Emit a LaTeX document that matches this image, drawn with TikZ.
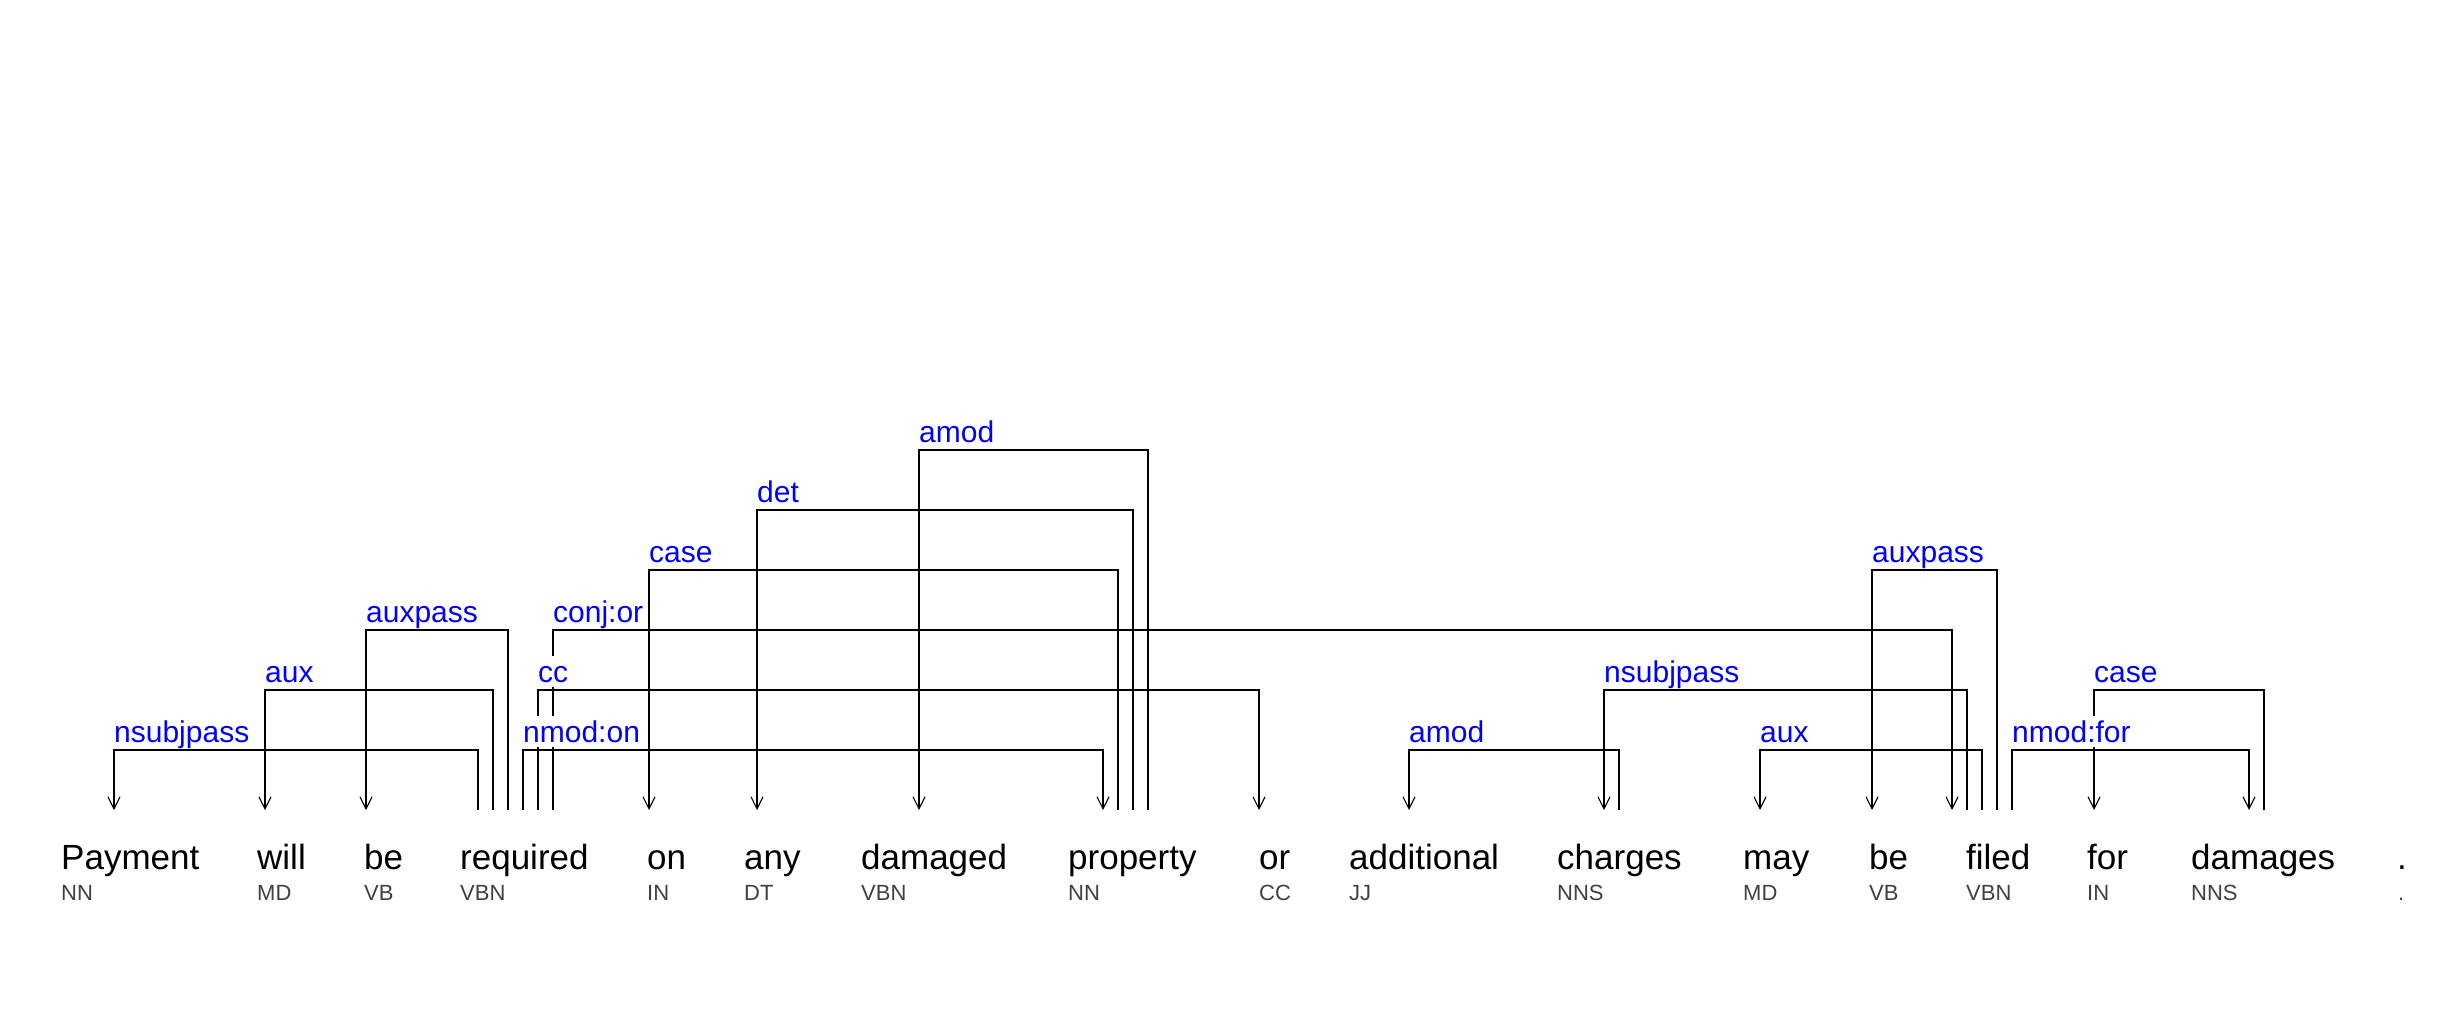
\documentclass[tikz,border=0pt]{standalone}
\usepackage{fontspec}
\setmainfont{Liberation Sans}
\usetikzlibrary{arrows.meta}
\definecolor{relblue}{RGB}{0,0,255}
\definecolor{posgray}{RGB}{64,64,64}
\begin{document}
\begin{tikzpicture}[x=1bp,y=-1bp,
  word/.style={anchor=base west,inner sep=0pt,font=\fontsize{35bp}{40bp}\selectfont},
  postag/.style={anchor=base west,inner sep=0pt,text=posgray,font=\fontsize{22bp}{26bp}\selectfont},
  rel/.style={anchor=base west,inner sep=0pt,text height=26bp,text depth=5bp,fill=white,
    yshift=8bp,text=relblue,font=\fontsize{30bp}{34bp}\selectfont},
  arc/.style={line width=1.1bp},
  dep/.style={arc,-{Straight Barb[length=12bp,width=12bp]}}]
  \useasboundingbox (0,0) rectangle (2462,1020);
  % arc levels
  \coordinate (L1) at (0,750);
  \coordinate (L2) at (0,690);
  \coordinate (L3) at (0,630);
  \coordinate (L4) at (0,570);
  \coordinate (L5) at (0,510);
  \coordinate (L6) at (0,450);
  % tokens
  \node[word] (payment) at (61,869) {Payment};
  \node[word] (will) at (257,869) {will};
  \node[word] (be) at (364,869) {be};
  \node[word] (required) at (460,869) {required};
  \node[word] (on) at (647,869) {on};
  \node[word] (any) at (744,869) {any};
  \node[word] (damaged) at (861,869) {damaged};
  \node[word] (property) at (1068,869) {property};
  \node[word] (or) at (1259,869) {or};
  \node[word] (additional) at (1349,869) {additional};
  \node[word] (charges) at (1557,869) {charges};
  \node[word] (may) at (1743,869) {may};
  \node[word] (be2) at (1869,869) {be};
  \node[word] (filed) at (1966,869) {filed};
  \node[word] (for) at (2087,869) {for};
  \node[word] (damages) at (2191,869) {damages};
  \node[word] (period) at (2397,869) {.};
  \node[postag] (payment-pos) at (61,900) {NN};
  \node[postag] (will-pos) at (257,900) {MD};
  \node[postag] (be-pos) at (364,900) {VB};
  \node[postag] (required-pos) at (460,900) {VBN};
  \node[postag] (on-pos) at (647,900) {IN};
  \node[postag] (any-pos) at (744,900) {DT};
  \node[postag] (damaged-pos) at (861,900) {VBN};
  \node[postag] (property-pos) at (1068,900) {NN};
  \node[postag] (or-pos) at (1259,900) {CC};
  \node[postag] (additional-pos) at (1349,900) {JJ};
  \node[postag] (charges-pos) at (1557,900) {NNS};
  \node[postag] (may-pos) at (1743,900) {MD};
  \node[postag] (be2-pos) at (1869,900) {VB};
  \node[postag] (filed-pos) at (1966,900) {VBN};
  \node[postag] (for-pos) at (2087,900) {IN};
  \node[postag] (damages-pos) at (2191,900) {NNS};
  \node[postag] (period-pos) at (2398,900) {.};
  % arc feet
  \coordinate (payment-f) at (114,810);
  \coordinate (will-f) at (265,810);
  \coordinate (be-f) at (366,810);
  \coordinate (required-f1) at (478,810);
  \coordinate (required-f2) at (493,810);
  \coordinate (required-f3) at (508,810);
  \coordinate (required-f4) at (523,810);
  \coordinate (required-f5) at (538,810);
  \coordinate (required-f6) at (553,810);
  \coordinate (on-f) at (649,810);
  \coordinate (any-f) at (757,810);
  \coordinate (damaged-f) at (919,810);
  \coordinate (property-f1) at (1103,810);
  \coordinate (property-f2) at (1118,810);
  \coordinate (property-f3) at (1133,810);
  \coordinate (property-f4) at (1148,810);
  \coordinate (or-f) at (1259,810);
  \coordinate (additional-f) at (1409,810);
  \coordinate (charges-f1) at (1604,810);
  \coordinate (charges-f2) at (1619,810);
  \coordinate (may-f) at (1760,810);
  \coordinate (be2-f) at (1872,810);
  \coordinate (filed-f1) at (1952,810);
  \coordinate (filed-f2) at (1967,810);
  \coordinate (filed-f3) at (1982,810);
  \coordinate (filed-f4) at (1997,810);
  \coordinate (filed-f5) at (2012,810);
  \coordinate (for-f) at (2094,810);
  \coordinate (damages-f1) at (2249,810);
  \coordinate (damages-f2) at (2264,810);
  % dependencies
  \draw[dep] (required-f1) -- (required-f1 |- L1) -| (payment-f);
  \draw[dep] (required-f2) -- (required-f2 |- L2) -| (will-f);
  \draw[dep] (required-f3) -- (required-f3 |- L3) -| (be-f);
  \draw[dep] (required-f4) -- (required-f4 |- L1) -| (property-f1);
  \draw[dep] (required-f5) -- (required-f5 |- L2) -| (or-f);
  \draw[dep] (required-f6) -- (required-f6 |- L3) -| (filed-f1);
  \draw[dep] (property-f2) -- (property-f2 |- L4) -| (on-f);
  \draw[dep] (property-f3) -- (property-f3 |- L5) -| (any-f);
  \draw[dep] (property-f4) -- (property-f4 |- L6) -| (damaged-f);
  \draw[dep] (charges-f2) -- (charges-f2 |- L1) -| (additional-f);
  \draw[dep] (filed-f2) -- (filed-f2 |- L2) -| (charges-f1);
  \draw[dep] (filed-f3) -- (filed-f3 |- L1) -| (may-f);
  \draw[dep] (filed-f4) -- (filed-f4 |- L4) -| (be2-f);
  \draw[dep] (filed-f5) -- (filed-f5 |- L1) -| (damages-f1);
  \draw[dep] (damages-f2) -- (damages-f2 |- L2) -| (for-f);
  % relation labels
  \node[rel] (nsubjpass1) at (payment-f |- L1) {nsubjpass};
  \node[rel] (aux1) at (will-f |- L2) {aux};
  \node[rel] (auxpass1) at (be-f |- L3) {auxpass};
  \node[rel] (nmodon) at (required-f4 |- L1) {nmod:on};
  \node[rel] (cc) at (required-f5 |- L2) {cc};
  \node[rel] (conjor) at (required-f6 |- L3) {conj:or};
  \node[rel] (case1) at (on-f |- L4) {case};
  \node[rel] (det) at (any-f |- L5) {det};
  \node[rel] (amod1) at (damaged-f |- L6) {amod};
  \node[rel] (amod2) at (additional-f |- L1) {amod};
  \node[rel] (nsubjpass2) at (charges-f1 |- L2) {nsubjpass};
  \node[rel] (aux2) at (may-f |- L1) {aux};
  \node[rel] (auxpass2) at (be2-f |- L4) {auxpass};
  \node[rel] (nmodfor) at (filed-f5 |- L1) {nmod:for};
  \node[rel] (case2) at (for-f |- L2) {case};
\end{tikzpicture}
\end{document}
